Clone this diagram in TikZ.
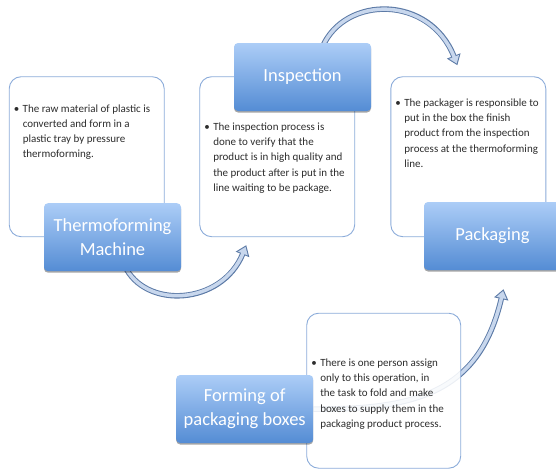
\documentclass[tikz,border=0pt]{standalone}
\usepackage{fontspec}
\setmainfont{Carlito}
\usetikzlibrary{arrows.meta,shadows}

\definecolor{boxedgecolor}{RGB}{140,172,218}
\definecolor{labeltopcolor}{RGB}{172,205,247}
\definecolor{labelbottomcolor}{RGB}{84,140,212}
\definecolor{arrowedgecolor}{RGB}{92,122,166}
\definecolor{arrowfillcolor}{RGB}{200,215,237}
\definecolor{bodytextcolor}{RGB}{45,45,45}
\newcommand{\bulletmark}{\llap{\textbullet\hspace{3.5pt}}}
\pgfdeclarelayer{boxlayer}
\pgfdeclarelayer{flowlayer}
\pgfsetlayers{boxlayer,flowlayer,main}
\tikzset{textbox/.style={draw=boxedgecolor, line width=0.9pt, rounded corners=12pt, fill=white, minimum width=155pt, minimum height=160pt, inner sep=0pt},%
    labelbox/.style={rounded corners=4pt, top color=labeltopcolor, bottom color=labelbottomcolor, draw=none, minimum width=137pt, minimum height=68pt, inner sep=0pt, text=white, align=center, font=\fontsize{18.5}{24}\selectfont, drop shadow={shadow xshift=0pt, shadow yshift=-1.5pt, opacity=0.35, fill=black}},%
    bodytext/.style={anchor=north west, inner sep=0pt, align=left, text=bodytextcolor, font=\fontsize{11}{15.3}\selectfont},%
    flowout/.style={line width=5.5pt, color=arrowedgecolor, -{Triangle[length=10pt, width=14pt]}},%
    flowin/.style={line width=3.5pt, color=arrowfillcolor, shorten >=1.8pt, -{Triangle[length=7.2pt, width=10.1pt]}}%
}

\begin{document}
\begin{tikzpicture}[x=1pt, y=-1pt]
    \useasboundingbox (0,0) rectangle (556,469);
    \clip (0,0) rectangle (556,469);
    \begin{pgfonlayer}{boxlayer} %draw text boxes
        \foreach \nodename/\xpos/\ypos in {%
                thermobox/86.7/156.7,
                inspectbox/277.2/156.7,
                packbox/468.3/156.7
            } \node[textbox] (\nodename) at (\xpos, \ypos) {};
    \end{pgfonlayer}
    \node[textbox, fill opacity=0.88, minimum width=154pt, minimum height=155pt] (formbox) at (383.7, 390.7) {};
    \begin{scope} %add texts
        \node[bodytext] (thermotext) at ([xshift=13.8pt, yshift=-28pt]thermobox.north west) {\bulletmark The raw material of plastic is\\converted and form in a\\plastic tray by pressure\\thermoforming.};
        \node[bodytext] (inspecttext) at ([xshift=13.8pt, yshift=-46.3pt]inspectbox.north west) {\bulletmark The inspection process is\\done to verify that the\\product is in high quality and\\the product after is put in the\\line waiting to be package.};
        \node[bodytext] (packtext) at ([xshift=13.8pt, yshift=-22.3pt]packbox.north west) {\bulletmark The packager is responsible to\\put in the box the finish\\product from the inspection\\process at the thermoforming\\line.};
        \node[bodytext] (formtext) at ([xshift=13.8pt, yshift=-45.7pt]formbox.north west) {\bulletmark There is one person assign\\only to this operation, in\\the task to fold and make\\boxes to supply them in the\\packaging product process.};
    \end{scope}
    \begin{scope} %draw labels
        \node[labelbox] (thermolabel) at (112.5, 237.2) {Thermoforming\\Machine};
        \node[labelbox] (inspectlabel) at (302.5, 77) {Inspection};
        \node[labelbox] (packlabel) at (492.5, 236) {Packaging};
        \node[labelbox] (formlabel) at (244.7, 409) {Forming of\\packaging boxes};
    \end{scope}
    \begin{pgfonlayer}{flowlayer} %draw connections
        \foreach \layer in {flowout, flowin} {
            \draw[\layer] ([xshift=12pt, yshift=6pt]thermolabel.south) .. controls (145,310) and (222,305) .. ([xshift=47pt, yshift=-8pt]inspectbox.south west);
            \draw[\layer] ([xshift=20pt, yshift=-4pt]inspectlabel.north) .. controls (345,-5) and (430,-5) .. ([xshift=67pt, yshift=11pt]packbox.north west);
            \draw[\layer] (formlabel.east) .. controls (420,410) and (480,390) .. ([xshift=11pt, yshift=-19pt]packlabel.south);
        }
    \end{pgfonlayer}
\end{tikzpicture}
\end{document}
